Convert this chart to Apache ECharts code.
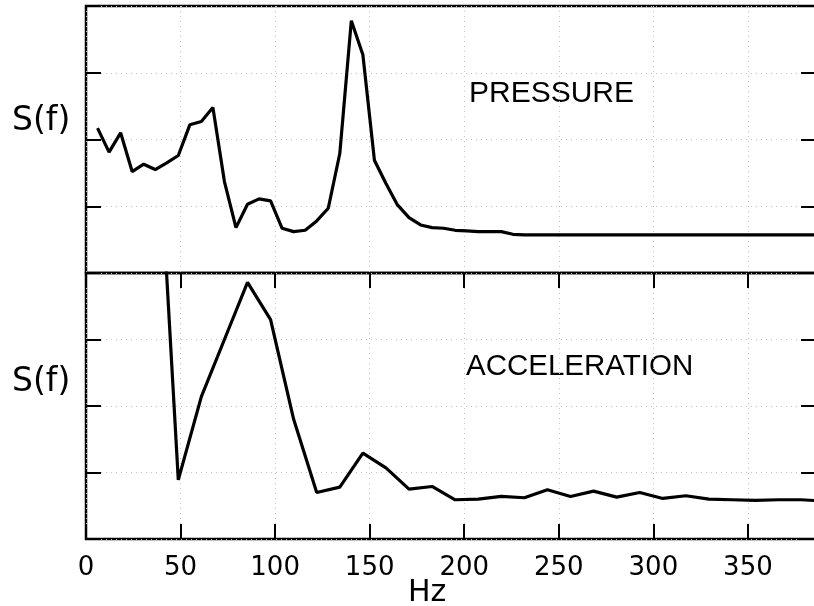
<!DOCTYPE html>
<html>
<head>
<meta charset="utf-8">
<script src="https://cdn.jsdelivr.net/npm/echarts@6/dist/echarts.min.js"></script>
<style>
html, body { margin: 0; padding: 0; background: #fff; }
#chart { width: 814px; height: 606px; }
</style>
</head>
<body>
<div id="chart"></div>
<script>
// spectra, frequency in Hz, S(f) in panel units (0-4)
var pressureHz = [6.1, 12.2, 18.3, 24.4, 30.5, 36.6, 42.7, 48.8, 54.9, 61, 67.1, 73.2, 79.3, 85.4, 91.5, 97.6,
	103.7, 109.8, 115.9, 122, 128.1, 134.2, 140.3, 146.4, 152.5, 158.6, 164.7, 170.8, 176.9, 183, 189.1, 195.2,
	201.3, 207.4, 213.5, 219.6, 225.7, 231.8, 260, 300, 340, 390];
var pressureS = [2.17, 1.81, 2.10, 1.52, 1.63, 1.55, 1.65, 1.76, 2.22, 2.27, 2.48, 1.37, 0.68, 1.03, 1.11, 1.08,
	0.67, 0.62, 0.64, 0.78, 0.97, 1.79, 3.78, 3.27, 1.69, 1.34, 1.02, 0.83, 0.72, 0.68, 0.67, 0.64,
	0.63, 0.62, 0.62, 0.62, 0.58, 0.57, 0.57, 0.57, 0.57, 0.57];

var accelHz = [36.6, 48.8, 61, 73.2, 85.4, 97.6, 109.8, 122, 134.2, 146.4, 158.6, 170.8, 183, 195.2, 207.4,
	219.6, 231.8, 244, 256.2, 268.4, 280.6, 292.8, 305, 317.2, 329.4, 341.6, 353.8, 366, 378.2, 390.4];
var accelS = [7.0, 0.89, 2.14, 3.0, 3.86, 3.30, 1.80, 0.70, 0.78, 1.29, 1.07, 0.75, 0.79, 0.59, 0.60,
	0.64, 0.62, 0.74, 0.64, 0.72, 0.63, 0.70, 0.61, 0.65, 0.60, 0.59, 0.58, 0.59, 0.59, 0.57];

var xTicks = [0, 50, 100, 150, 200, 250, 300, 350];
var panelLabels = ['PRESSURE', 'ACCELERATION'];

function pairs(xs, ys){
	var out = [];
	for(var i = 0; i < xs.length; i++){
		out.push([xs[i], ys[i]]);
	}
	return out;
}

var gridLine = { show: true, lineStyle: { color: '#c4c4c4', width: 1, type: [1, 4] } };

function xAxisFor(idx, pos, showLabel){
	return {
		type: 'value', gridIndex: idx, position: pos,
		min: 0, max: 386, interval: 50,
		axisLine: { show: false },
		axisTick: { show: true, inside: true, length: 15, lineStyle: { color: '#000', width: 2 } },
		axisLabel: {
			show: showLabel, margin: 16, color: '#000',
			fontFamily: 'DejaVu Sans', fontSize: 26, fontWeight: 500,
			formatter: function(v){ return xTicks.indexOf(v) > -1 ? String(v) : ''; }
		},
		splitLine: gridLine
	};
}

function yAxisFor(idx, pos){
	return {
		type: 'value', gridIndex: idx, position: pos,
		min: 0, max: 4, interval: 1,
		axisLine: { show: false },
		axisTick: { show: true, inside: true, length: 15, lineStyle: { color: '#000', width: 2 } },
		axisLabel: { show: false },
		splitLine: pos === 'left' ? gridLine : { show: false }
	};
}

var chart = echarts.init(document.getElementById('chart'));
chart.setOption({
	backgroundColor: '#fff',
	animation: false,
	grid: [
		{ left: 86, top: 6, width: 730, height: 267, outerBoundsMode: 'none', containLabel: false,
			show: true, borderColor: '#000', borderWidth: 2.5 },
		{ left: 86, top: 273, width: 730, height: 266, outerBoundsMode: 'none', containLabel: false,
			show: true, borderColor: '#000', borderWidth: 2.5 }
	],
	xAxis: [xAxisFor(0, 'top', false), xAxisFor(1, 'bottom', true)],
	yAxis: [yAxisFor(0, 'left'), yAxisFor(0, 'right'), yAxisFor(1, 'left'), yAxisFor(1, 'right')],
	series: [
		{
			type: 'line', xAxisIndex: 0, yAxisIndex: 0, data: pairs(pressureHz, pressureS),
			showSymbol: false, clip: true, lineStyle: { color: '#000', width: 3.2 }
		},
		{
			type: 'line', xAxisIndex: 1, yAxisIndex: 2, data: pairs(accelHz, accelS),
			showSymbol: false, clip: true, lineStyle: { color: '#000', width: 3.2 }
		}
	],
	graphic: [
		{ type: 'text', left: 12, top: 105, style: { text: 'S(f)', font: '33px "DejaVu Sans"', fill: '#000' } },
		{ type: 'text', left: 12, top: 366, style: { text: 'S(f)', font: '33px "DejaVu Sans"', fill: '#000' } },
		{ type: 'text', left: 469, top: 79, style: { text: panelLabels[0], font: '30px "Liberation Sans"', fill: '#000' } },
		{ type: 'text', left: 466, top: 352, style: { text: panelLabels[1], font: '29.5px "Liberation Sans"', fill: '#000' } },
		{ type: 'text', left: 408, top: 578, style: { text: 'Hz', font: '30px "DejaVu Sans"', fill: '#000' } }
	]
});
</script>
</body>
</html>
